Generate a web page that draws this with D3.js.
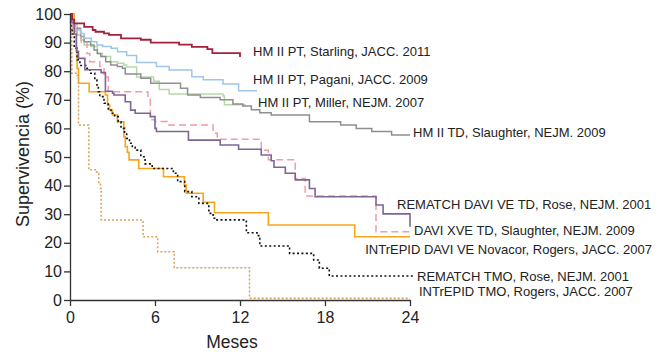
<!DOCTYPE html>
<html>
<head>
<meta charset="utf-8">
<script src="https://cdn.jsdelivr.net/npm/d3@7"></script>
<style>
  body { margin: 0; background: #fff; }
  svg { display: block; font-family: "Liberation Sans", Arial, sans-serif; }
</style>
</head>
<body>
<svg id="chart" width="669" height="352"></svg>
<script>
// Kaplan-Meier curves, [month, survival %] (value after the step)
const starling = [[0,100],[0.15,98],[0.3,96.7],[1.0,95.5],[1.6,94.4],[1.8,93.8],[2.4,93.2],[2.75,92.7],[3.6,91.5],[5.0,91],[5.7,90],[7.7,89.3],[8.6,88.5],[9.7,87.7],[10.05,86.3],[12,85]];
const pagani = [[0,100],[0.1,98.5],[0.25,96.2],[0.4,94.4],[0.75,93.2],[1.0,91.5],[1.5,90.3],[1.9,89.2],[2.3,88.6],[2.9,88],[3.35,86.8],[4.0,85.5],[4.7,83],[6.1,81.6],[7.0,80.4],[8.6,78.1],[9.4,77],[10.8,75.5],[11.9,73.2],[13.2,73.2]];
const miller = [[0,100],[0.1,97.9],[0.28,96.2],[0.52,92.7],[0.75,90.9],[1.0,89.2],[1.46,88.6],[1.93,86.2],[2.28,85.1],[2.87,83.3],[3.34,82.8],[3.8,82.2],[4.0,81.5],[4.7,78],[5.9,76.5],[6.3,73.6],[7.0,72],[10.8,71.3],[10.9,68.3],[12.4,68.3]];
const hmiiTd = [[0,100],[0.1,97.5],[0.24,95],[0.75,92.1],[1.0,90.3],[1.46,89.2],[1.7,87.4],[1.93,86.2],[2.17,85.1],[2.52,83.3],[2.87,82.2],[3.34,81.6],[3.7,81],[3.9,79],[5.0,77.5],[5.7,75.8],[7.8,74],[8.3,71.7],[9.2,70.8],[10.6,70],[11.5,68.5],[12.2,67.8],[12.8,66.5],[13.4,65.5],[14.2,64.7],[16.9,62.3],[19.1,61.2],[20.2,60],[21.3,58.9],[22.7,57.7],[24,57.7]];
const rematchLvad = [[0,100],[0.05,97],[0.3,93],[0.45,87],[0.6,84.5],[1.05,80.5],[2.2,79.5],[2.5,73],[3.0,72.3],[3.1,71.7],[3.9,69.3],[4.28,66.4],[4.6,65.3],[5.67,64.1],[6.0,60],[6.1,58.9],[8.36,55.9],[10.6,54.2],[11.9,52.7],[13.5,50.7],[14.2,48.7],[14.4,46.4],[15.2,44.3],[15.9,42],[16.9,39],[17.3,36.1],[21.6,33.2],[22.1,30.1],[24,25.6]];
const daviXve = [[0,100],[0.2,95],[0.5,92],[0.8,90],[1.2,86.2],[1.4,83.3],[2.1,81.6],[2.4,78],[2.7,72.8],[5.5,70.5],[5.67,63],[6.0,62.4],[6.85,61.2],[10.1,58.3],[10.4,56.2],[13.5,52.4],[14.0,49],[15.9,42.5],[16.6,36.4],[21.6,23.9],[24,23.9]];
const novacor = [[0,100],[0.3,94],[0.45,88],[0.5,81],[0.6,75.8],[1.35,72.8],[2.5,71.7],[2.65,68.2],[2.8,66.4],[3.0,64.7],[3.35,62.3],[3.8,57.1],[3.9,53.6],[4.05,51.6],[4.17,49],[4.85,46],[6.6,43.1],[8.07,40.2],[8.2,37.3],[9.4,34.2],[10.2,30.5],[14.0,26.2],[20.1,22.1],[24,22.1]];
const rematchOmt = [[0,100],[0.15,93],[0.3,88],[0.5,84],[0.7,82],[1.2,81],[1.4,79.3],[1.75,76.9],[1.9,75.2],[2.0,72.8],[2.1,71.1],[2.4,68.8],[2.7,66.4],[2.9,65.3],[3.15,64.1],[3.4,62.3],[3.6,60],[3.85,58.3],[4.0,56.5],[4.2,54.8],[4.4,53.4],[4.6,52.4],[5.0,50.1],[5.3,47.6],[5.8,46],[7.3,44.3],[7.6,41.4],[8.1,37.9],[8.6,36.1],[9.1,33.8],[9.8,30.3],[10.1,28.6],[10.3,28],[12.45,23.5],[13.2,22.5],[13.4,18.9],[15.5,16.3],[17.2,14],[17.6,11.1],[18.3,8.4],[24.2,8.4]];
const intrepidOmt = [[0,100],[0.12,90],[0.13,79.3],[0.45,78.5],[0.6,61.2],[1.33,45.5],[1.9,44.3],[2.03,40.8],[2.15,39],[2.2,28],[5.16,22.1],[6.19,16.9],[7.36,11.3],[12.67,0.6],[24,0.6]];

const seriesNames = [
  "HM II PT, Starling, JACC. 2011",
  "HM II PT, Pagani, JACC. 2009",
  "HM II PT, Miller, NEJM. 2007",
  "HM II TD, Slaughter, NEJM. 2009",
  "REMATCH DAVI VE TD, Rose, NEJM. 2001",
  "DAVI XVE TD, Slaughter, NEJM. 2009",
  "INTrEPID DAVI VE Novacor, Rogers, JACC. 2007",
  "REMATCH TMO, Rose, NEJM. 2001",
  "INTrEPID TMO, Rogers, JACC. 2007"
];
const xTicks = [0, 6, 12, 18, 24];
const yTicks = [0, 10, 20, 30, 40, 50, 60, 70, 80, 90, 100];

// drawing order + styles
const seriesData = [novacor, intrepidOmt, rematchOmt, miller, hmiiTd, pagani, daviXve, rematchLvad, starling];
const seriesIdx  = [6, 8, 7, 2, 3, 1, 5, 4, 0];
const styles = [
  { color: "#a3223a", width: 1.8, dash: null },
  { color: "#9fc5e8", width: 1.5, dash: null },
  { color: "#b4daa4", width: 1.5, dash: null },
  { color: "#8f8f8f", width: 1.5, dash: null },
  { color: "#7e6598", width: 1.6, dash: null },
  { color: "#f29ca6", width: 1.5, dash: "7,4" },
  { color: "#f9a51c", width: 1.6, dash: null },
  { color: "#111111", width: 1.6, dash: "2,2.4" },
  { color: "#d9a15c", width: 1.5, dash: "2,2" }
];
// label placement (pixels), anchor
const labelPos = [
  [253, 51, "start"], [253, 79, "start"], [258, 102, "start"], [413, 132, "start"],
  [397, 204, "start"], [414, 230, "start"], [652, 249, "end"], [417, 276, "start"], [419, 291, "start"]
];

const svg = d3.select("#chart");
const x = d3.scaleLinear().domain([0, 24]).range([70, 410]);
const y = d3.scaleLinear().domain([0, 100]).range([300, 14]);

const line = d3.line()
  .x(d => x(d[0]))
  .y(d => y(d[1]))
  .curve(d3.curveStepAfter);

svg.append("g")
  .selectAll("path")
  .data(seriesData)
  .join("path")
  .attr("fill", "none")
  .attr("d", line)
  .attr("stroke", (d, i) => styles[seriesIdx[i]].color)
  .attr("stroke-width", (d, i) => styles[seriesIdx[i]].width)
  .attr("stroke-dasharray", (d, i) => styles[seriesIdx[i]].dash);

const yAxis = svg.append("g")
  .attr("transform", `translate(${x(0)},0)`)
  .call(d3.axisLeft(y).tickValues(yTicks).tickSize(6).tickPadding(2).tickSizeOuter(0));
const xAxis = svg.append("g")
  .attr("transform", `translate(0,${y(0)})`)
  .call(d3.axisBottom(x).tickValues(xTicks).tickSize(6).tickPadding(6).tickSizeOuter(0));

[xAxis, yAxis].forEach(g => {
  g.select(".domain").attr("stroke", "#333").attr("stroke-width", 1.3);
  g.selectAll(".tick line").attr("stroke", "#333").attr("stroke-width", 1.3);
  g.selectAll(".tick text").attr("fill", "#222").style("font-size", "16px").attr("font-family", null);
});

svg.append("text")
  .attr("transform", "translate(29,154) rotate(-90)")
  .attr("text-anchor", "middle")
  .attr("fill", "#222")
  .style("font-size", "18px")
  .text("Supervivencia (%)");

svg.append("text")
  .attr("x", 232)
  .attr("y", 348)
  .attr("text-anchor", "middle")
  .attr("fill", "#222")
  .style("font-size", "17.5px")
  .text("Meses");

svg.append("g")
  .selectAll("text")
  .data(seriesNames)
  .join("text")
  .attr("x", (d, i) => labelPos[i][0])
  .attr("y", (d, i) => labelPos[i][1])
  .attr("text-anchor", (d, i) => labelPos[i][2])
  .attr("dy", "0.35em")
  .attr("fill", "#222")
  .style("font-size", "13px")
  .text(d => d);
</script>
</body>
</html>
